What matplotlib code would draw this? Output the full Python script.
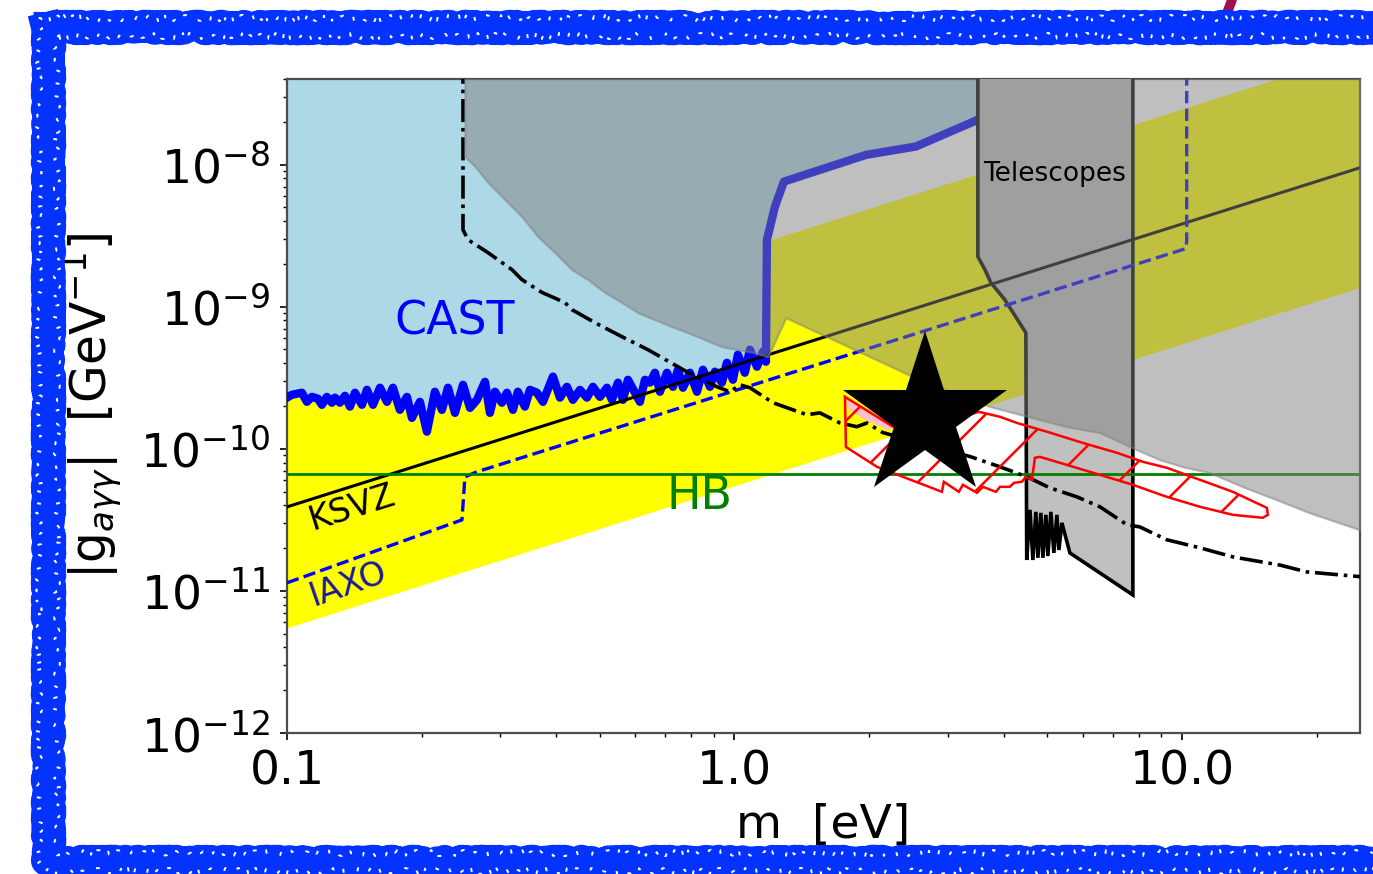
import numpy as np
import matplotlib
matplotlib.use('Agg')
import matplotlib.pyplot as plt
from matplotlib.lines import Line2D
from matplotlib.ticker import FixedLocator, FixedFormatter, NullFormatter

# axion mass m [eV] and coupling g [GeV^-1]
cast_m = [0.100, 0.1026, 0.1080, 0.1108, 0.1137, 0.1173, 0.1197, 0.1228, 0.1260, 0.1280,
          0.1313, 0.1348, 0.1383, 0.1419, 0.1471, 0.1509, 0.1557, 0.1614, 0.1673, 0.1725,
          0.1788, 0.1854, 0.1902, 0.1982, 0.2055, 0.2141, 0.2220, 0.2290, 0.2374, 0.2474,
          0.2565, 0.2659, 0.2770, 0.2842, 0.2916, 0.3023, 0.3102, 0.3199, 0.3282, 0.3402,
          0.3491, 0.3620, 0.3733, 0.3930, 0.4074, 0.4223, 0.4356, 0.4516, 0.4682, 0.4829,
          0.5006, 0.5189, 0.5324, 0.5492, 0.5635, 0.5781, 0.6149, 0.6310, 0.6474, 0.6643,
          0.6816, 0.7067, 0.7289, 0.7478, 0.7674, 0.7955, 0.8247, 0.8505, 0.8816, 0.9046,
          0.9376, 0.9621, 0.9923, 1.018, 1.055, 1.083, 1.123, 1.158, 1.176, 1.182,
          1.232, 1.290, 1.968, 2.544, 3.43, 3.52]
cast_g = np.array([2.29, 2.40, 2.48, 2.14, 2.32, 2.25, 2.04, 2.32, 2.11, 2.29,
                   2.11, 2.36, 1.98, 2.48, 2.04, 2.60, 2.04, 2.69, 2.14, 2.69,
                   1.88, 2.32, 1.65, 2.14, 1.32, 2.52, 1.88, 2.69, 1.79, 2.82,
                   1.94, 2.21, 2.96, 1.79, 2.52, 2.11, 2.48, 1.88, 2.52, 1.98,
                   2.60, 2.48, 2.14, 3.22, 2.29, 2.73, 2.21, 2.60, 2.29, 2.73,
                   2.32, 2.69, 2.21, 2.92, 2.21, 3.06, 2.14, 3.06, 2.92, 3.43,
                   2.52, 3.43, 2.73, 3.60, 2.69, 3.43, 2.52, 3.60, 2.73, 3.49,
                   2.92, 4.03, 3.06, 4.59, 3.43, 4.98, 3.78, 4.82, 4.10, 29.6,
                   50.6, 75.9, 117, 134, 201, 210]) * 1e-10

# QCD axion band edges
band_m = [0.1, 25.0]
band_lo = [5.5e-12, 1.37e-9]
band_hi = [2.46e-10, 6.15e-8]

ksvz_m = [0.1, 25.0]
ksvz_g = [3.9e-11, 9.5e-9]

iaxo_m = [0.1, 0.2461, 0.2499, 0.2659, 10.2, 10.25, 10.25]
iaxo_g = [1.14e-11, 3.16e-11, 6.35e-11, 6.89e-11, 2.56e-9, 2.9e-9, 1e-7]

hb_g = 6.6e-11

dashdot_m = [0.2474, 0.2474, 0.2538, 0.2814, 0.3184, 0.3350, 0.3714, 0.4179, 0.4335, 0.4877,
             0.5605, 0.6409, 0.7831, 0.9140, 0.9771, 1.029, 1.083, 1.219, 1.452, 1.552,
             1.721, 1.878, 1.977, 2.147, 3.377, 3.921, 4.504, 5.070, 5.827, 6.557,
             7.538, 8.055, 9.256, 10.97, 13.00, 16.56, 19.02, 25.0]
dashdot_g = [1e-7, 3.48e-9, 2.96e-9, 2.40e-9, 1.82e-9, 1.55e-9, 1.26e-9, 1.07e-9, 9.53e-10, 7.72e-10,
             6.15e-10, 4.98e-10, 3.48e-10, 2.73e-10, 2.52e-10, 2.82e-10, 2.69e-10, 2.11e-10, 1.735e-10, 1.79e-10,
             1.52e-10, 1.43e-10, 1.52e-10, 1.30e-10, 8.78e-11, 7.47e-11, 6.35e-11, 5.31e-11, 4.59e-11, 3.91e-11,
             2.92e-11, 2.82e-11, 2.29e-11, 2.01e-11, 1.735e-11, 1.52e-11, 1.36e-11, 1.26e-11]

# grey excluded region, lower edge
shade_m = [0.2499, 0.2499, 0.2632, 0.2814, 0.3070, 0.3350, 0.3638, 0.3971, 0.4335, 0.4707,
           0.5134, 0.5605, 0.6085, 0.6643, 0.7251, 0.7873, 0.8592, 0.9378, 1.018, 1.111,
           1.188, 1.303, 2.505, 3.724, 4.645, 5.534, 6.557, 7.93, 8.93, 10.05,
           11.55, 13.69, 16.31, 19.32, 25.0]
shade_g = [1e-7, 1.14e-8, 9.68e-9, 7.47e-9, 5.67e-9, 4.30e-9, 3.11e-9, 2.40e-9, 1.82e-9, 1.55e-9,
           1.26e-9, 1.07e-9, 9.07e-10, 8.10e-10, 7.23e-10, 6.56e-10, 5.86e-10, 5.23e-10, 4.98e-10, 4.74e-10,
           4.44e-10, 8.37e-10, 3.22e-10, 1.98e-10, 1.65e-10, 1.43e-10, 1.30e-10, 9.84e-11, 8.37e-11, 7.47e-11,
           6.78e-11, 5.40e-11, 4.37e-11, 3.54e-11, 2.69e-11]

tel_m = [3.50, 3.50, 3.63, 3.74, 4.02, 4.48, 4.50, 4.575, 4.645, 4.717, 4.766, 4.840,
         4.891, 4.967, 5.018, 5.096, 5.175, 5.256, 5.310, 5.393, 5.62, 7.77, 7.77]
tel_g = [1e-7, 2.25e-9, 1.82e-9, 1.48e-9, 1.12e-9, 6.56e-10, 1.65e-11, 3.72e-11, 1.65e-11, 3.60e-11,
         1.71e-11, 3.54e-11, 1.71e-11, 3.43e-11, 1.76e-11, 3.60e-11, 1.85e-11, 3.43e-11, 1.94e-11, 3.01e-11,
         1.85e-11, 9.37e-12, 1e-7]

hatch_m = [1.766, 1.775, 2.082, 2.909, 2.938, 3.174, 3.240, 3.483, 3.592, 3.840,
           3.921, 4.126, 4.213, 4.390, 4.48, 4.622, 4.694, 4.816, 5.337, 6.557,
           7.77, 9.256, 10.97, 13.00, 15.17, 15.56, 15.49, 14.19, 13.00, 10.97,
           9.256, 8.18, 7.16, 6.007, 5.070, 4.279, 3.921, 3.518, 2.806, 2.261]
hatch_g = [2.32e-10, 1.03e-10, 7.47e-11, 4.98e-11, 5.86e-11, 4.98e-11, 5.58e-11, 4.90e-11, 5.40e-11, 4.98e-11,
           5.40e-11, 5.40e-11, 5.76e-11, 5.86e-11, 6.35e-11, 6.05e-11, 8.64e-11, 8.78e-11, 7.97e-11, 6.56e-11,
           5.58e-11, 4.59e-11, 3.91e-11, 3.43e-11, 3.27e-11, 3.43e-11, 3.84e-11, 4.37e-11, 4.98e-11, 6.05e-11,
           7.35e-11, 8.10e-11, 9.37e-11, 1.10e-10, 1.30e-10, 1.52e-10, 1.68e-10, 1.82e-10, 1.48e-10, 1.43e-10]

pink_m = [1.775, 2.261, 2.226, 1.957, 1.784]
pink_g = [2.32e-10, 1.45e-10, 1.34e-10, 1.60e-10, 1.94e-10]

star_m = [2.666]
star_g = [1.68e-10]

x_ticks = [0.1, 1.0, 10.0]
x_labels = ['0.1', '1.0', '10.0']

fig = plt.figure(figsize=(6.865, 4.37), dpi=200)
ax = fig.add_axes([0.209, 0.1613, 0.7815, 0.7483])
ax.set_xscale('log')
ax.set_yscale('log')
top = 1e-7

# band
ax.fill_between(band_m, band_lo, band_hi, color='yellow', lw=0, zorder=1)
# CAST
ax.fill_between(cast_m, cast_g, top, color='lightblue', lw=0, zorder=2)
ax.plot(cast_m, cast_g, color='blue', lw=3, solid_joinstyle='round', zorder=3)
# telescopes
ax.fill(tel_m, tel_g, facecolor='silver', edgecolor='k', lw=1.3, zorder=3.5)

ax.plot(ksvz_m, ksvz_g, color='k', lw=1.1, zorder=4)
ax.plot(iaxo_m, iaxo_g, color='blue', lw=1.2, ls='--', zorder=4)
ax.axhline(hb_g, color='green', lw=1.0, zorder=4)
ax.plot(dashdot_m, dashdot_g, color='k', lw=1.3, ls='-.', zorder=4)

# grey region on top
ax.fill_between(shade_m, shade_g, top, facecolor='gray', edgecolor='gray', alpha=0.5, lw=0.8, zorder=5)

plt.rcParams['hatch.linewidth'] = 0.9
ax.fill(pink_m, pink_g, color='pink', lw=0, zorder=6)
ax.fill(hatch_m, hatch_g, facecolor='none', edgecolor='red', hatch='/', lw=0.9, zorder=6)

ax.plot(star_m, star_g, marker='*', ms=62, color='k', mew=0, ls='none', zorder=7)

ax.text(0.2374, 7.84e-10, 'CAST', color='blue', fontsize=16.5, ha='center', va='center', zorder=8)
ax.text(0.8374, 4.59e-11, 'HB', color='green', fontsize=16.5, ha='center', va='center', zorder=8)
ax.text(0.1397, 3.84e-11, 'KSVZ', color='k', fontsize=12, rotation=17.5,
        rotation_mode='anchor', ha='center', va='center', zorder=8)
ax.text(0.1369, 1.12e-11, 'IAXO', color='#1a1a9a', fontsize=12, rotation=19,
        rotation_mode='anchor', ha='center', va='center', zorder=8)
ax.text(5.20, 8.64e-9, 'Telescopes', color='k', fontsize=9.5, ha='center', va='center', zorder=8)

ax.set_xlim(0.1, 25)
ax.set_ylim(1e-12, 4e-8)
ax.xaxis.set_major_locator(FixedLocator(x_ticks))
ax.xaxis.set_major_formatter(FixedFormatter(x_labels))
ax.xaxis.set_minor_formatter(NullFormatter())
ax.yaxis.set_minor_formatter(NullFormatter())
ax.tick_params(which='major', direction='out', length=2.5, width=0.6, labelsize=17, top=False, right=False)
ax.tick_params(which='minor', direction='out', length=1.6, width=0.5, top=False, right=False)
for s in ax.spines.values():
    s.set_color('0.3')
    s.set_linewidth(0.8)

ax.set_xlabel('m  [eV]', fontsize=17, labelpad=3)
ax.set_ylabel(r'|g$_{a\gamma\gamma}$|  [GeV$^{-1}$]', fontsize=17.5, labelpad=6)

# hand-drawn frame around the figure
W, H = 1373.0, 874.0
fx = [48 / W, 1384 / W, 1384 / W, 48 / W, 48 / W]
fy = [1 - 27 / H, 1 - 27 / H, 1 - 862 / H, 1 - 862 / H, 1 - 27 / H]
stroke = Line2D([1232 / W, 1225 / W], [1.0, 1 - 18 / H], transform=fig.transFigure,
                color='#9e1050', lw=3.5, solid_capstyle='round')
fig.add_artist(stroke)
for lw, sk in [(11, (2.5, 20, 30)), (8, (5, 12, 50)), (6, (6, 8, 80))]:
    ln = Line2D(fx, fy, transform=fig.transFigure, color='#0433ff', lw=lw)
    ln.set_sketch_params(*sk)
    fig.add_artist(ln)
# light flecks inside the frame strokes
for off, sk in [(-9, (3, 6, 60)), (9, (3, 7, 50))]:
    ox = [(48 + off) / W, (1384 - off) / W, (1384 - off) / W, (48 + off) / W, (48 + off) / W]
    oy = [1 - (27 + off) / H, 1 - (27 + off) / H, 1 - (862 - off) / H, 1 - (862 - off) / H, 1 - (27 + off) / H]
    fl = Line2D(ox, oy, transform=fig.transFigure, color='white', lw=0.7, ls=(0, (2, 9)))
    fl.set_sketch_params(*sk)
    fig.add_artist(fl)

fig.savefig('out.png', dpi=200)
